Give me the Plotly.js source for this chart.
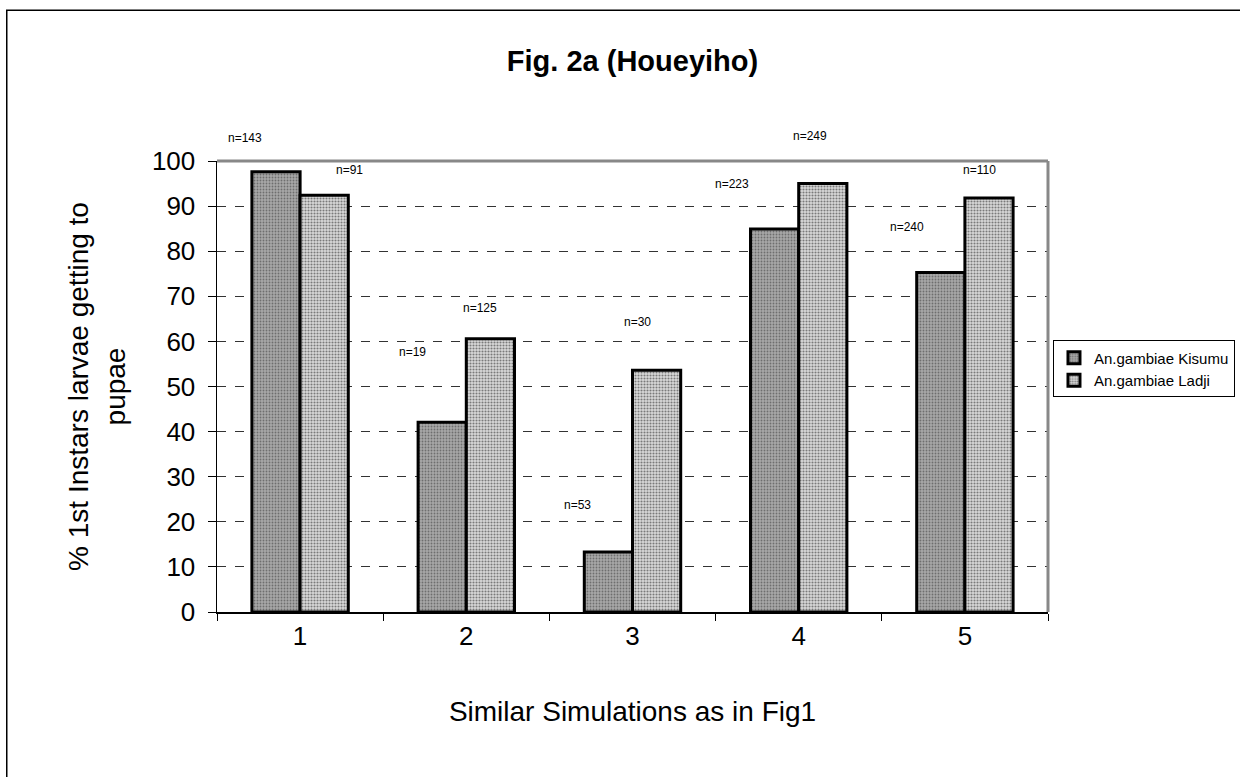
<!DOCTYPE html>
<html>
<head>
<meta charset="utf-8">
<script src="https://cdn.plot.ly/plotly-3.0.1.min.js"></script>
<style>html,body{margin:0;padding:0;background:#fff}#chart{width:1240px;height:777px}</style>
</head>
<body>
<div id="chart"></div>
<script>
var categories = ["1", "2", "3", "4", "5"];
var kisumu = [97.6, 42.1, 13.3, 84.9, 75.3];
var ladji = [92.4, 60.6, 53.6, 95.0, 91.8];
var seriesNames = ["An.gambiae Kisumu", "An.gambiae Ladji"];
var nLabels = ["n=143", "n=91", "n=19", "n=125", "n=53", "n=30", "n=223", "n=249", "n=240", "n=110"];
var nLabelX = [-0.33, 0.30, 0.675, 1.08, 1.67, 2.03, 2.60, 3.07, 3.65, 4.09];
var nLabelY = [105, 98, 57.6, 67.4, 23.7, 64.3, 94.9, 105.5, 85.4, 98];
var yTicks = [0, 10, 20, 30, 40, 50, 60, 70, 80, 90, 100];
var yMax = 100;

var traces = [
  {type: "bar", x: categories, y: kisumu, name: seriesNames[0],
   marker: {color: "#9c9c9c", line: {color: "#000", width: 3},
            pattern: {shape: ".", fgcolor: "#6e6e6e", bgcolor: "#a8a8a8", size: 3, solidity: 0.3}}},
  {type: "bar", x: categories, y: ladji, name: seriesNames[1],
   marker: {color: "#c8c8c8", line: {color: "#000", width: 3},
            pattern: {shape: ".", fgcolor: "#7a7a7a", bgcolor: "#dadada", size: 3, solidity: 0.4}}}
];

var annotations = nLabels.map(function (t, i) {
  return {x: nLabelX[i], y: nLabelY[i] / yMax, xref: "x", yref: "paper", yanchor: "middle", xanchor: "center",
          text: t, showarrow: false,
          font: {family: "Liberation Sans, Arial, sans-serif", size: 12, color: "#000"}};
});

var layout = {
  width: 1240, height: 777,
  margin: {l: 217, r: 192, t: 161, b: 165, autoexpand: false},
  paper_bgcolor: "#fff", plot_bgcolor: "#fff",
  font: {family: "Liberation Sans, Arial, sans-serif", color: "#000"},
  title: {text: "<b>Fig. 2a (Houeyiho)</b>", x: 0.5, xref: "paper", y: 0.922, yanchor: "middle",
          font: {size: 29, color: "#000"}},
  barmode: "group", bargap: 0.42, bargroupgap: 0,
  showlegend: true,
  legend: {x: 1.006, xanchor: "left", y: 0.602, yanchor: "top", bgcolor: "#fff",
           bordercolor: "#000", borderwidth: 1, font: {size: 15, color: "#000"},
           tracegroupgap: 0, itemwidth: 30},
  xaxis: {type: "category", tickson: "boundaries", ticks: "outside", ticklen: 7, tickcolor: "#000",
          showline: true, linecolor: "#000", linewidth: 1.5, showgrid: false, zeroline: false,
          tickfont: {size: 26, color: "#000"},
          title: {text: "Similar Simulations as in Fig1", font: {size: 28, color: "#000"}, standoff: 51}},
  yaxis: {range: [0, yMax], tickvals: yTicks, ticks: "outside", ticklen: 8, tickcolor: "#000",
          showline: true, linecolor: "#000", linewidth: 1.5, zeroline: false,
          showgrid: true, gridcolor: "#333", griddash: "dash", gridwidth: 1,
          tickfont: {size: 26, color: "#000"}, ticklabelstandoff: 7,
          title: {text: "% 1st Instars larvae getting to<br>pupae", font: {size: 28, color: "#000"}, standoff: 18}},
  annotations: annotations,
  shapes: [
    {type: "line", xref: "paper", yref: "paper", x0: 0, x1: 1, y0: 1, y1: 1, line: {color: "#888", width: 3}},
    {type: "line", xref: "paper", yref: "paper", x0: 1, x1: 1, y0: 0, y1: 1, line: {color: "#888", width: 3}},
    {type: "rect", xref: "paper", yref: "paper", x0: -0.253, x1: 1.3, y0: -0.5, y1: 1.334,
     line: {color: "#000", width: 1.5}, fillcolor: "rgba(0,0,0,0)", layer: "below"}
  ]
};

Plotly.newPlot("chart", traces, layout, {displayModeBar: false, staticPlot: true});
</script>
</body>
</html>
